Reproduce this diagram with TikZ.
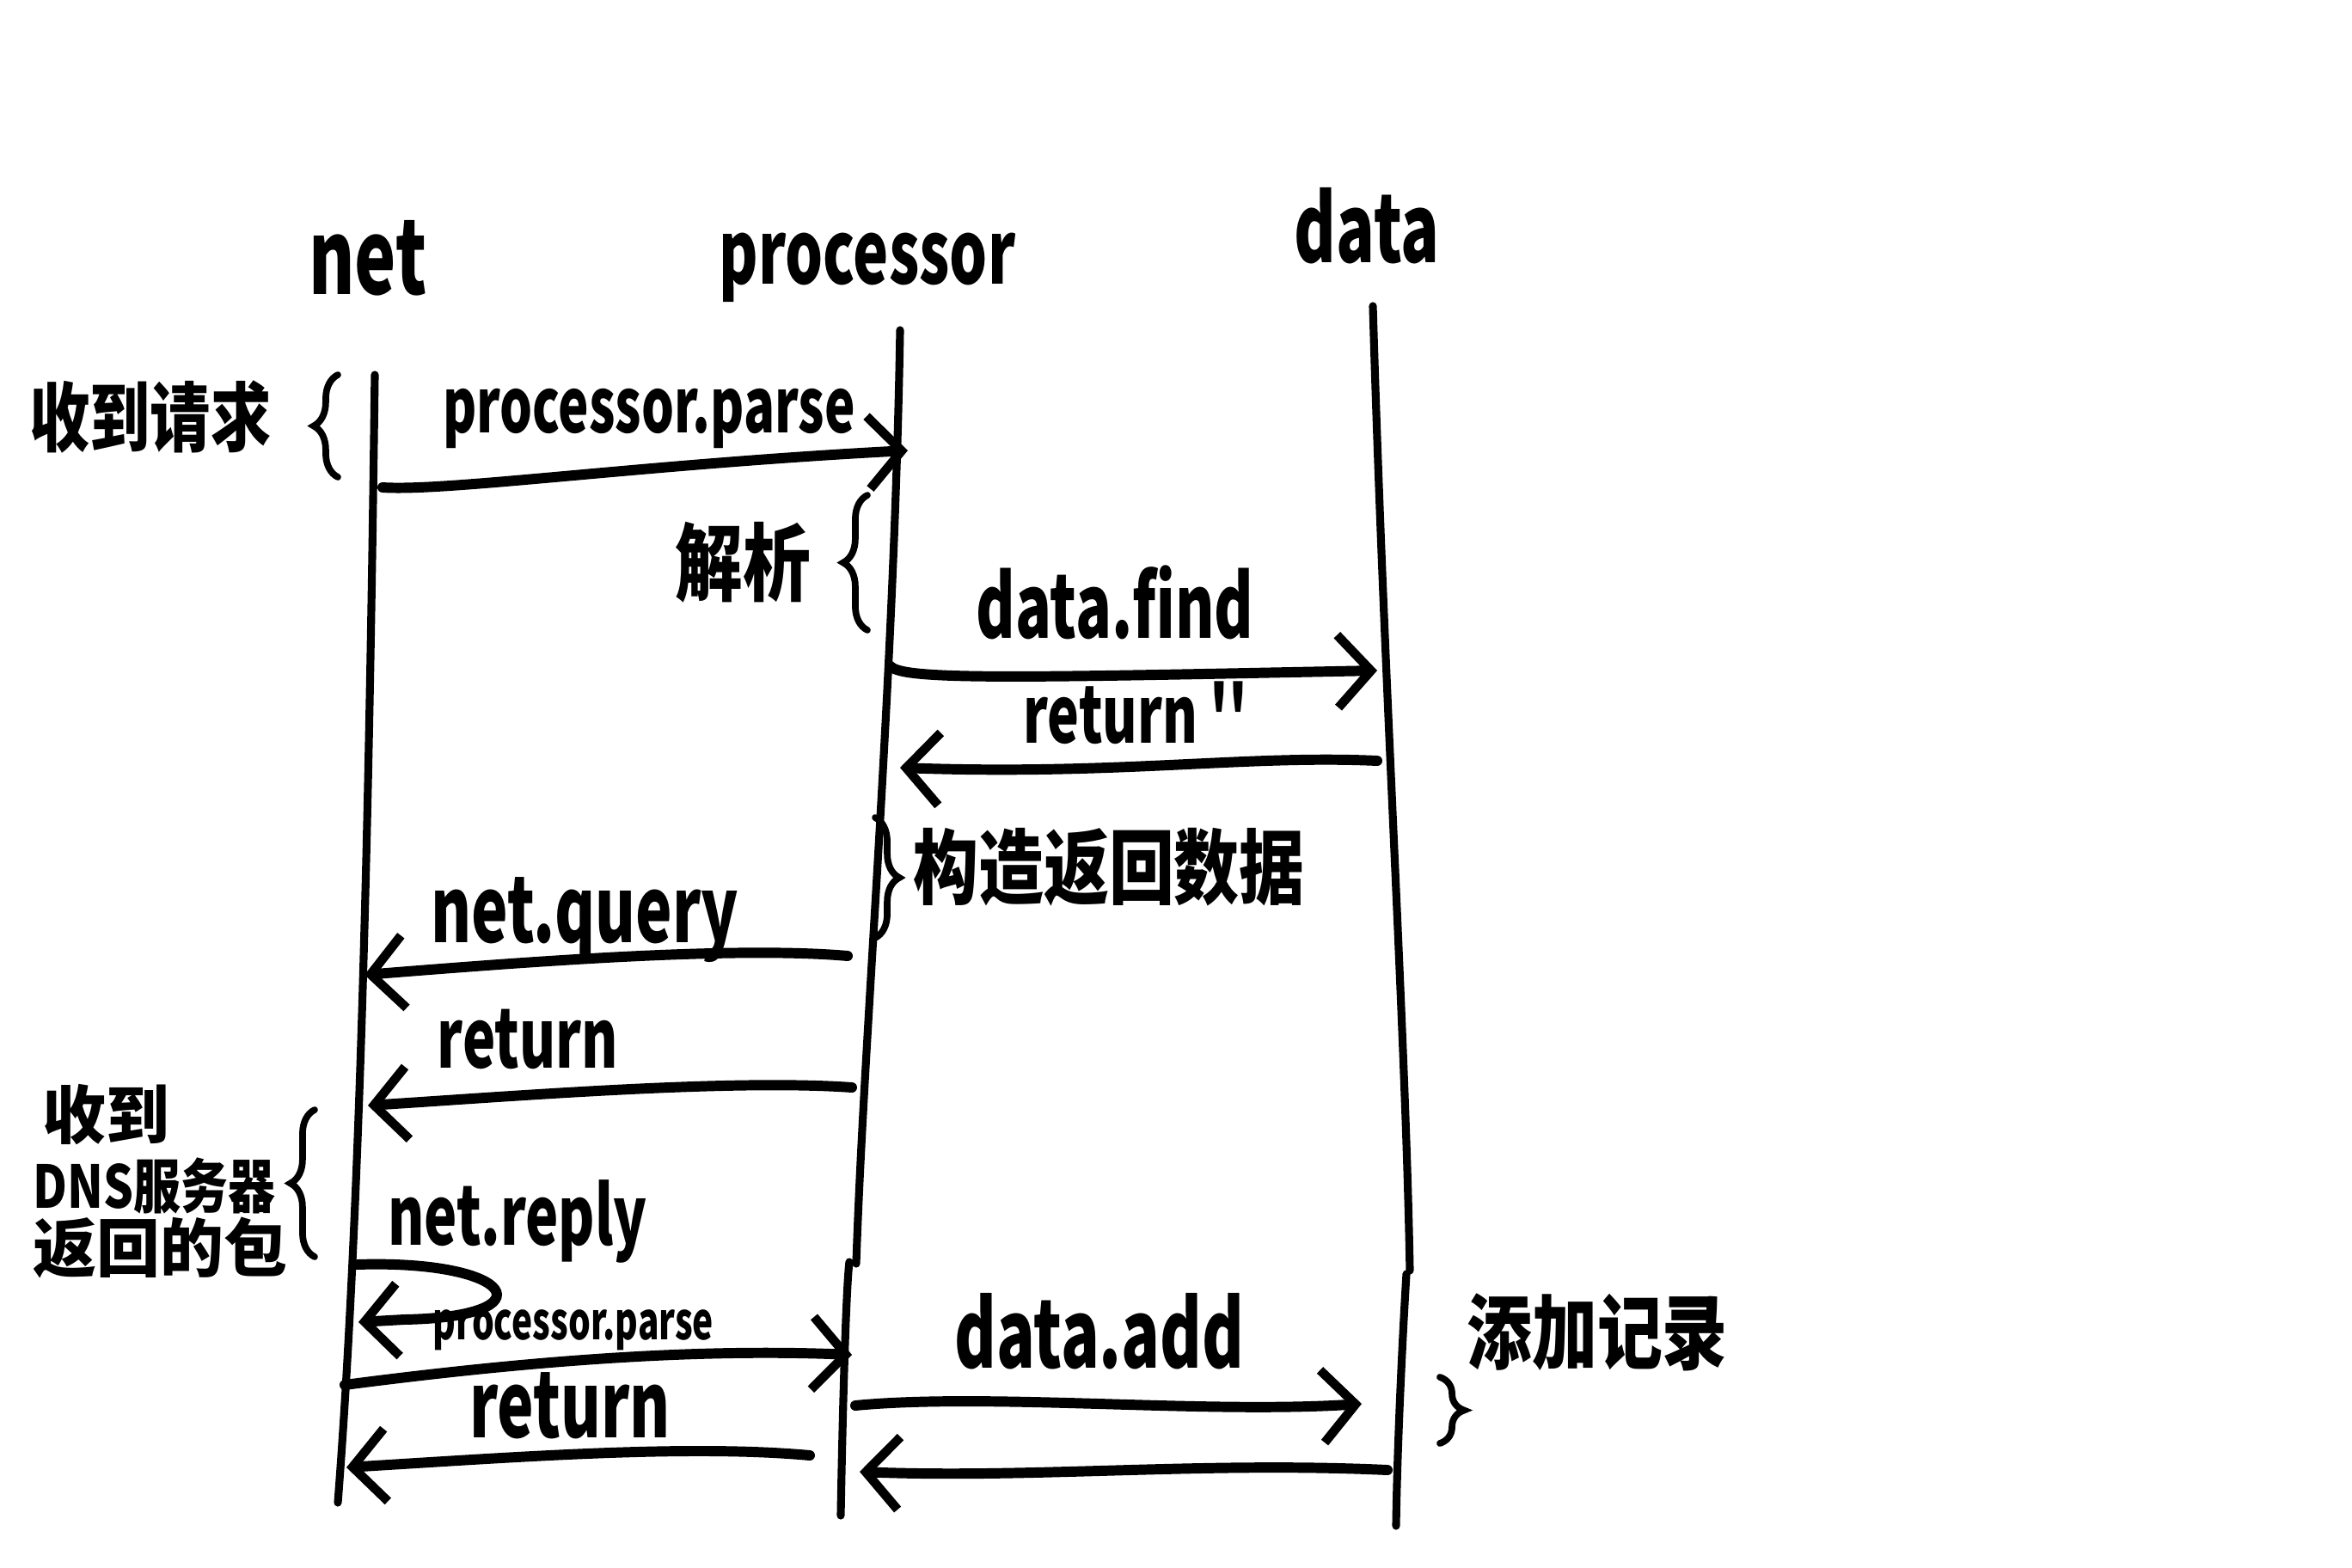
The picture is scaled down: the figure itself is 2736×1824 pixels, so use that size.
\documentclass[tikz,border=0pt]{standalone}
\usepackage{fontspec}
\usetikzlibrary{arrows.meta,decorations.pathreplacing}
\newfontfamily\handlat[FakeStretch=0.68]{Noto Sans CJK SC}
\newfontfamily\handcjk[FakeStretch=0.8]{Noto Sans CJK SC}
\newfontfamily\handcjkw{Noto Sans CJK SC}
\tikzset{
  life/.style={line width=2.6pt, line cap=round},
  msg/.style={line width=3.4pt, line cap=round, -{Straight Barb[length=11pt,width=24pt,line width=3pt]}},
  brc/.style={line width=2.2pt, line cap=round, decorate, decoration={brace, amplitude=8pt}},
  ttl/.style={font=\handlat\bfseries\fontsize{31}{33}\selectfont, inner sep=0pt, anchor=base},
  lbl/.style={font=\handlat\bfseries\fontsize{26}{28}\selectfont, inner sep=0pt, anchor=base},
  cjk/.style={font=\handcjk\bfseries\fontsize{25}{30}\selectfont, inner sep=0pt},
}
\begin{document}
\begin{tikzpicture}[x=0.01cm,y=-0.01cm]
\fill[white] (0,0) rectangle (2736,1824);
\useasboundingbox (0,0) rectangle (2736,1824);

% titles
\node[ttl,font=\handlat\bfseries\fontsize{34}{36}\selectfont] (tnet) at (428,342) {net};
\node[ttl,font=\handlat\bfseries\fontsize{29}{33}\selectfont] (tproc) at (1009,330) {processor};
\node[ttl] (tdata) at (1590,305) {data};

% lifelines
\coordinate (netT) at (436,436);
\coordinate (netB) at (393,1748);
\coordinate (procT) at (1047,384);
\coordinate (procM) at (996,1470);
\coordinate (procM2) at (988,1468);
\coordinate (procB) at (978,1763);
\coordinate (dataT) at (1597,356);
\coordinate (dataM) at (1640,1478);
\coordinate (dataM2) at (1636,1482);
\coordinate (dataB) at (1624,1775);
\draw[life] (netT) .. controls (430,900) and (420,1400) .. (netB);
\draw[life] (procT) .. controls (1040,800) and (1005,1200) .. (procM);
\draw[life] (procM2) .. controls (984,1500) and (980,1650) .. (procB);
\draw[life] (dataT) .. controls (1610,800) and (1635,1200) .. (dataM);
\draw[life] (dataM2) .. controls (1630,1580) and (1625,1700) .. (dataB);

% message endpoints
\coordinate (m1s) at (445,567);  \coordinate (m1e) at (1056,524);
\coordinate (m2s) at (1036,775); \coordinate (m2e) at (1602,780);
\coordinate (m3s) at (1602,885); \coordinate (m3e) at (1047,893);
\coordinate (m4s) at (986,1112); \coordinate (m4e) at (424,1134);
\coordinate (m5s) at (991,1265); \coordinate (m5e) at (428,1286);
\coordinate (m6s) at (415,1471); \coordinate (m6e) at (417,1538);
\coordinate (m7s) at (401,1611); \coordinate (m7e) at (991,1576);
\coordinate (m8s) at (942,1693); \coordinate (m8e) at (403,1707);
\coordinate (m9s) at (995,1635); \coordinate (m9e) at (1584,1633);
\coordinate (m10s) at (1614,1710); \coordinate (m10e) at (1000,1712);

\draw[msg] (m1s) .. controls (520,572) and (750,540) .. (m1e);
\draw[msg] (m2s) .. controls (1050,792) and (1200,788) .. (m2e);
\draw[msg] (m3s) .. controls (1450,878) and (1300,902) .. (m3e);
\draw[msg] (m4s) .. controls (850,1100) and (600,1120) .. (m4e);
\draw[msg] (m5s) .. controls (850,1255) and (600,1275) .. (m5e);
\draw[msg] (m6s) .. controls (600,1465) and (640,1532) .. (470,1535) -- (m6e);
\draw[msg] (m7s) .. controls (600,1585) and (800,1568) .. (m7e);
\draw[msg] (m8s) .. controls (800,1680) and (600,1695) .. (m8e);
\draw[msg] (m9s) .. controls (1150,1620) and (1400,1645) .. (m9e);
\draw[msg] (m10s) .. controls (1400,1700) and (1200,1720) .. (m10e);

% message labels
\node[lbl,font=\handlat\bfseries\fontsize{25}{28}\selectfont] (l1) at (755,503) {processor.parse};
\node[lbl,font=\handlat\bfseries\fontsize{29}{30}\selectfont] (l2) at (1297,742) {data.find};
\node[lbl,font=\handlat\bfseries\fontsize{26}{28}\selectfont] (l3) at (1321,864) {return \char"27\char"27};
\node[lbl,font=\handlat\bfseries\fontsize{30}{30}\selectfont] (l4) at (680,1096) {net.query};
\node[lbl,font=\handlat\bfseries\fontsize{27}{28}\selectfont] (l5) at (614,1242) {return};
\node[lbl,font=\handlat\bfseries\fontsize{27}{28}\selectfont] (l6) at (602,1448) {net.reply};
\node[lbl,font=\handlat\bfseries\fontsize{17}{20}\selectfont] (l7) at (667,1558) {processor.parse};
\node[lbl,font=\handlat\bfseries\fontsize{30}{30}\selectfont] (l8) at (663,1672) {return};
\node[lbl,font=\handlat\bfseries\fontsize{31}{30}\selectfont] (l9) at (1279,1591) {data.add};

% braces and notes
\coordinate (b1a) at (393,555);  \coordinate (b1b) at (393,436);
\coordinate (b2a) at (1009,733); \coordinate (b2b) at (1009,576);
\coordinate (b3a) at (1018,951); \coordinate (b3b) at (1018,1091);
\coordinate (b4a) at (366,1462); \coordinate (b4b) at (366,1291);
\coordinate (b5a) at (1675,1602); \coordinate (b5b) at (1675,1679);
\draw[brc] (b1a) -- (b1b);
\draw[brc] (b2a) -- (b2b);
\draw[brc] (b3a) -- (b3b);
\draw[brc] (b4a) -- (b4b);
\draw[brc] (b5a) -- (b5b);

\node[cjk] (n1) at (175,485) {收到请求};
\node[cjk,font=\handcjk\bfseries\fontsize{28}{30}\selectfont] (n2) at (864,654) {解析};
\node[cjk,font=\handcjk\bfseries\fontsize{27}{30}\selectfont] (n3) at (1290,1009) {构造返回数据};
\node[cjk,anchor=west,font=\handcjkw\bfseries\fontsize{21}{24}\selectfont] (n4a) at (49,1297) {收到};
\node[cjk,anchor=west,font=\handcjk\bfseries\fontsize{19.5}{24}\selectfont] (n4b) at (38,1379) {DNS服务器};
\node[cjk,anchor=west,font=\handcjkw\bfseries\fontsize{21}{24}\selectfont] (n4c) at (38,1452) {返回的包};
\node[cjk,font=\handcjk\bfseries\fontsize{27}{30}\selectfont] (n5) at (1858,1550) {添加记录};
\end{tikzpicture}
\end{document}
